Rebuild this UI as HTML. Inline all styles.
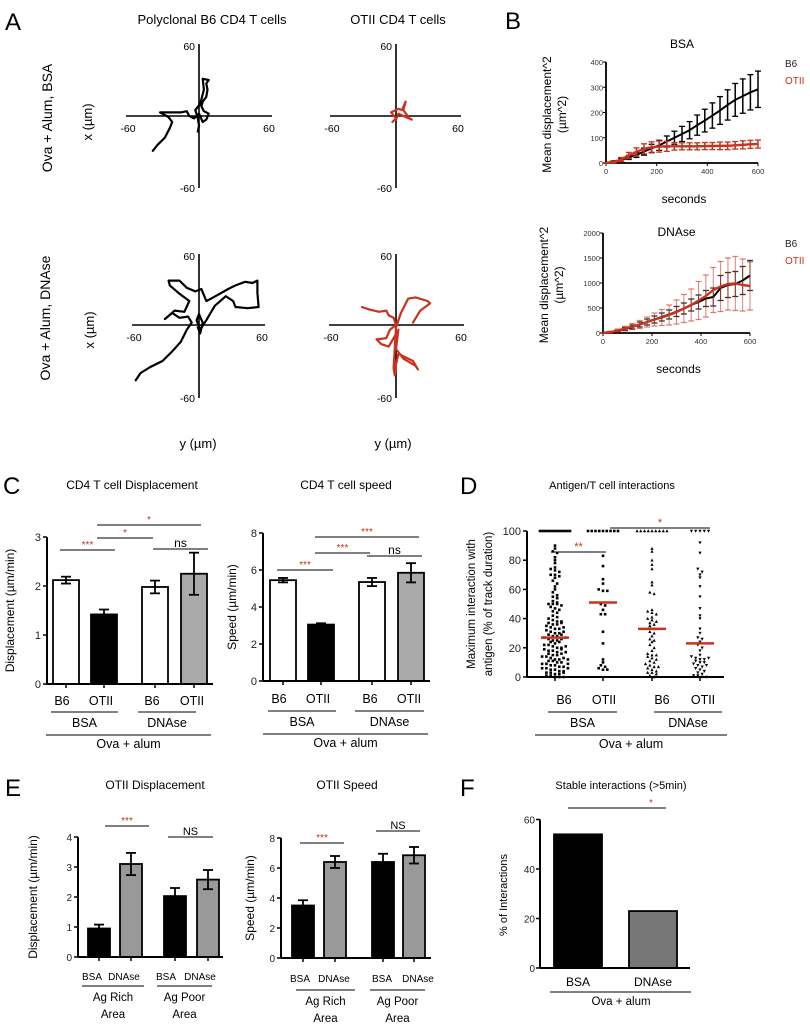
<!DOCTYPE html>
<html><head><meta charset="utf-8"><style>
html,body{margin:0;padding:0;background:#fff;}
svg{display:block;font-family:"Liberation Sans",sans-serif;}
</style></head><body>
<svg id="fig" width="810" height="1030" viewBox="0 0 810 1030" xmlns="http://www.w3.org/2000/svg">
<g font-size="24" fill="#000">
<text x="5" y="30">A</text>
<text x="505" y="29">B</text>
<text x="3" y="494">C</text>
<text x="460" y="494">D</text>
<text x="5" y="796">E</text>
<text x="460" y="796">F</text>
</g>
<g id="root"></g>
</svg>
<script>
// ===== Panel A track data (µm) =====
const trackB6BSA = [[-38,-29],[-34,-24],[-28,-18],[-24,-10],[-22,-5],[-25,-1],[-32,3],[-22,3],[-15,3],[-10,4],[-8,0],[-4,-2],[0,2],[3,-5],[6,-3],[8,2],[4,4],[2,8],[3,12],[6,16],[7,22],[6,27],[8,30],[3,31],[4,22],[1,10],[-3,5],[-1,-2],[0,-8],[-1,-13]];
const trackOTIIBSA = [[-3,-5],[0,-2],[-4,3],[2,6],[5,5],[7,10],[8,12],[6,5],[11,-2],[13,-3],[6,0],[2,2],[0,-3]];
const trackB6DN = [[-52,-46],[-48,-40],[-40,-35],[-30,-30],[-22,-22],[-15,-14],[-10,-4],[-6,2],[-9,7],[-16,6],[-22,10],[-28,5],[-20,12],[-12,11],[-8,20],[-16,26],[-24,33],[-25,37],[-16,37],[-10,31],[-3,28],[2,30],[6,20],[10,22],[17,26],[24,30],[30,33],[38,36],[44,35],[48,37],[48,27],[49,15],[40,14],[30,15],[28,20],[22,24],[13,16],[6,4],[1,-4],[-2,4],[0,9],[3,2],[1,-7],[-1,-2]];
const trackOTIIDN = [[-28,15],[-22,13],[-14,11],[-8,12],[-6,8],[-2,6],[0,0],[-5,-4],[-8,-11],[-16,-12],[-12,-16],[-6,-18],[-2,-11],[2,-4],[0,-20],[6,-28],[16,-34],[18,-37],[14,-30],[2,-24],[0,-33],[-1,-42],[-2,-36],[0,-2],[4,10],[10,22],[16,23],[26,20],[28,18],[20,12],[14,2]];

// ===== Panel B data =====
const bTimes = [0,30,60,90,120,150,180,210,240,270,300,330,360,390,420,450,480,510,540,570,600];
const bsaB6 = [0,6,12,22,32,45,58,70,85,100,115,130,150,168,188,208,230,250,265,280,292];
const bsaB6Err = [0,3,6,8,10,14,16,20,22,26,30,34,40,45,50,55,60,65,68,70,72];
const bsaOTII = [0,4,14,30,44,56,62,65,66,66,66,66,66,67,67,68,68,70,72,74,75];
const bsaOTIIErr = [0,4,8,12,16,20,22,22,20,15,14,14,14,14,14,15,15,15,16,16,16];
const dnB6 = [0,15,40,80,120,170,220,270,320,370,430,490,560,620,690,720,900,960,980,1050,1150];
const dnB6Err = [0,10,20,30,40,50,60,70,80,90,100,110,120,140,160,180,250,250,250,280,300];
const dnOTII = [0,20,50,90,130,170,220,270,310,360,420,490,560,650,740,860,930,980,990,960,940];
const dnOTIIErr = [0,15,30,45,60,80,100,130,160,200,240,280,320,380,420,450,500,520,540,520,480];
const bYTicksBSA = [0,100,200,300,400];
const bYTicksDN = [0,500,1000,1500,2000];
const bXTicks = [0,200,400,600];

// ===== Panel C data =====
const cCats = ["B6","OTII","B6","OTII"];
const cDisp = [2.12,1.42,1.98,2.25];
const cDispErr = [0.07,0.1,0.13,0.43];
const cSpeed = [5.45,3.05,5.35,5.85];
const cSpeedErr = [0.12,0.07,0.22,0.52];
const cDispTicks = [0,1,2,3];
const cSpeedTicks = [0,2,4,6,8];

// ===== Panel D data =====
const dB6BSA = [100,100,100,100,100,100,100,100,100,100,100,100,100,90,88,86,85,82,80,78,75,74,73,72,70,70,69,68,66,64,62,60,58,56,55,54,52,51,50,50,50,49,48,47,46,45,44,42,41,40,39,38,38,37,36,35,34,33,33,32,31,30,30,29,28,28,27,26,25,25,24,23,22,22,21,20,20,19,18,18,17,16,15,15,14,14,13,12,12,11,11,10,10,9,9,8,8,7,7,6,6,5,5,4,4,3,3,2,2,1,1,0,0,0,13,16,19,24,26,29,34,36,12,9,6,3,17,21,27,31,37];
const dOTIIBSA = [100,100,100,100,100,100,100,100,100,83,76,67,64,60,59,59,50,49,46,43,43,31,23,12,10,8,7,6,5,5];
const dB6DN = [100,100,100,100,100,100,100,100,100,88,86,80,77,74,65,63,58,57,46,45,44,43,41,40,39,38,37,36,35,33,31,30,28,26,24,22,20,18,16,15,14,13,12,11,10,9,8,7,6,5,4,3,3,2,1,0,7,15,25];
const dOTIIDN = [100,100,100,100,100,92,85,74,72,70,68,62,55,47,42,40,33,30,27,26,24,22,20,18,15,14,13,12,12,11,10,10,9,8,7,6,5,4,3,2,1,1,0,0,13,8];
const dMedians = [27,51,33,23];
const dTicks = [0,20,40,60,80,100];

// ===== Panel E data =====
const eDisp = [0.95,3.1,2.03,2.58];
const eDispErr = [0.13,0.37,0.27,0.32];
const eSpeed = [3.5,6.4,6.4,6.85];
const eSpeedErr = [0.35,0.4,0.55,0.55];
const eDispTicks = [0,1,2,3,4];
const eSpeedTicks = [0,2,4,6,8];

// ===== Panel F data =====
const fCats = ["BSA","DNAse"];
const fVals = [54,23];
const fTicks = [0,20,40,60];

const NS="http://www.w3.org/2000/svg";
const root=document.getElementById('root');
const RED="#c8321e";
function el(tag,attrs,parent,text){const e=document.createElementNS(NS,tag);for(const k in attrs)e.setAttribute(k,attrs[k]);if(text!==undefined)e.textContent=text;(parent||root).appendChild(e);return e;}
function grp(name){const g=el('g',{});


return g;}
function txt(g,x,y,s,size,opts){opts=opts||{};const t=el('text',{x:x,y:y,'font-size':size,'text-anchor':opts.anchor||'middle',fill:opts.fill||'#000'},g,s);if(opts.rot)t.setAttribute('transform','rotate(-90 '+x+' '+y+')');return t;}
function line(g,x1,y1,x2,y2,w,c){return el('line',{x1:x1,y1:y1,x2:x2,y2:y2,stroke:c||'#000','stroke-width':w||1},g);}

// ===== Panel A =====
const gA=grp('panel-a-tracks');
txt(gA,212,24,'Polyclonal B6 CD4 T cells',13);
txt(gA,398,24,'OTII CD4 T cells',13);
txt(gA,52,118,'Ova + Alum, BSA',14,{rot:true});
txt(gA,92,122,'x (µm)',13,{rot:true});
txt(gA,50,318,'Ova + Alum, DNAse',14,{rot:true});
txt(gA,94,330,'x (µm)',13,{rot:true});
txt(gA,198,448,'y (µm)',13);
txt(gA,393,448,'y (µm)',13);
function trackPlot(name,cx,cy,hx0,hx1,vy0,vy1,data,color){
  const g=grp(name);
  const sx=73/60, sy=72/60;
  line(g,hx0,cy,hx1,cy,1.6);line(g,cx,vy0,cx,vy1,1.6);
  txt(g,cx-4,vy0+6,'60',10.5,{anchor:'end'});
  txt(g,cx-4,vy1+4,'-60',10.5,{anchor:'end'});
  txt(g,hx0+2,cy+16,'-60',10.5);
  txt(g,hx1-3,cy+16,'60',10.5);
  const pts=data.map(p=>(cx+p[0]*sx).toFixed(1)+','+(cy-p[1]*sy).toFixed(1)).join(' ');
  const pl=el('polyline',{points:pts,fill:'none',stroke:color,'stroke-width':2.2,'stroke-linejoin':'round','stroke-linecap':'round'},g);
  
  
}
trackPlot('track-b6-bsa',199,116,126,272,44,188,trackB6BSA,'#000');
trackPlot('track-otii-bsa',396,116,330,461,44,188,trackOTIIBSA,RED);
trackPlot('track-b6-dnase',199,325,132,265,254,398,trackB6DN,'#000');
trackPlot('track-otii-dnase',396,325,329,464,254,398,trackOTIIDN,RED);

// ===== Panel B =====
function msdPlot(name,title,x0,x1,y0,ytop,ymax,yticks,s1,e1,s2,e2,titleY,legY,errStyle){
  const g=grp(name);
  const X=t=>x0+(t/600)*(x1-x0), Y=v=>y0-(v/ymax)*(y0-ytop);
  txt(g,(x0+x1)/2,titleY,title,12);
  txt(g,x0-55,(y0+ytop)/2+2,'Mean displacement^2',12,{rot:true});
  txt(g,x0-40,(y0+ytop)/2+2,'(µm^2)',12,{rot:true});
  txt(g,(x0+x1)/2+2,y0+40,'seconds',12);
  txt(g,785,legY,'B6',10,{anchor:'start',fill:'#222'});
  txt(g,785,legY+17,'OTII',10,{anchor:'start',fill:RED});
  line(g,x0,ytop,x0,y0,1.8);line(g,x0,y0,x1,y0,1.8);
  yticks.forEach(v=>{line(g,x0-3,Y(v),x0,Y(v),1);txt(g,x0-3,Y(v)+3,String(v),7.5,{anchor:'end',fill:'#333'});});
  bXTicks.forEach(v=>{line(g,X(v),y0,X(v),y0+3,1);txt(g,X(v),y0+11,String(v),7.5,{fill:'#333'});});
  function series(vals,errs,color,w,eop,sname){
    const sg=grp(sname);g.appendChild(sg);
    bTimes.forEach((t,i)=>{const x=X(t);line(sg,x,Y(vals[i]-errs[i]),x,Y(vals[i]+errs[i]),errStyle?1:1.5,color).setAttribute('opacity',eop);
      line(sg,x-3,Y(vals[i]+errs[i]),x+3,Y(vals[i]+errs[i]),1.3,color).setAttribute('opacity',eop);
      line(sg,x-3,Y(vals[i]-errs[i]),x+3,Y(vals[i]-errs[i]),1.3,color).setAttribute('opacity',eop);});
    el('polyline',{points:bTimes.map((t,i)=>X(t)+','+Y(vals[i])).join(' '),fill:'none',stroke:color,'stroke-width':w,'stroke-linejoin':'round'},sg);
  }
  series(s1,e1,'#000',2,errStyle?0.8:1,'series-b6');
  series(s2,e2,RED,2.4,errStyle?0.6:1,'series-otii');
}
msdPlot('msd-bsa-chart','BSA',606,758,163,62,400,bYTicksBSA,bsaB6,bsaB6Err,bsaOTII,bsaOTIIErr,48,67,false);
msdPlot('msd-dnase-chart','DNAse',603,750,333,233,2000,bYTicksDN,dnB6,dnB6Err,dnOTII,dnOTIIErr,236,247,true);

// ===== generic bar chart =====
function barChart(name,x0,x1,y0,pxu,ticks,vals,errs,centers,bw,fills,ylabel,ylx,tickSize){
  const g=grp(name);
  const Y=v=>y0-v*pxu;
  vals.forEach((v,i)=>{
    const r=el('rect',{x:centers[i]-bw/2,y:Y(v),width:bw,height:v*pxu,fill:fills[i],stroke:'#000','stroke-width':1.8},g);
    
    
    if(errs){const x=centers[i];const both=fills[i]!=='#000';
      line(g,x,Y(v+errs[i]),x,both?Y(v-errs[i]):Y(v),1.8);
      line(g,x-5,Y(v+errs[i]),x+5,Y(v+errs[i]),1.8);
      if(both)line(g,x-5,Y(v-errs[i]),x+5,Y(v-errs[i]),1.8);}
    line(g,centers[i],y0,centers[i],y0+4,1.5);
  });
  line(g,x0,Y(ticks[ticks.length-1]),x0,y0,2);line(g,x0,y0,x1,y0,2);
  ticks.forEach(v=>{line(g,x0-4,Y(v),x0,Y(v),1.5);txt(g,x0-6,Y(v)+4,String(v),tickSize||11,{anchor:'end',fill:'#222'});});
  txt(g,ylx,y0-(ticks[ticks.length-1]*pxu)/2,ylabel,12,{rot:true});
  return g;
}
function sig(g,x1,x2,y,label,color,size){line(g,x1,y,x2,y,1);txt(g,(x1+x2)/2,y-2,label,size||10,{fill:color});}

// ===== Panel C =====
const gC=grp('panel-c-titles');
txt(gC,132,489,'CD4 T cell Displacement',12);
txt(gC,346,489,'CD4 T cell speed',12);
const cF=['#fff','#000','#fff','#aaa'];
const gC1=barChart('displacement-bar-chart',47,213,684,49,cDispTicks,cDisp,cDispErr,[66,104,155,194],26,cF,'Displacement (µm/min)',14);
const gC2=barChart('speed-bar-chart',263,430,681,37/2,cSpeedTicks,cSpeed,cSpeedErr,[283,321,372,411],26,cF,'Speed (µm/min)',236);
function groupLabels(g,centers,cats,ly,gl,g1,g2,glbl,big){
  cats.forEach((c,i)=>txt(g,centers[i],ly,c,12.5));
  line(g,g1[0],gl,g1[1],gl,1);line(g,g2[0],gl,g2[1],gl,1);
  txt(g,(g1[0]+g1[1])/2,gl+15,glbl[0],12.5);txt(g,(g2[0]+g2[1])/2,gl+15,glbl[1],12.5);
  line(g,big[0],gl+23,big[1],gl+23,1);txt(g,(big[0]+big[1])/2,gl+36,'Ova + alum',12.5);
}
groupLabels(gC1,[62,101,152,192],cCats,705,712,[51,118],[138,196],['BSA','DNAse'],[46,211]);
groupLabels(gC2,[279,318,370,409],cCats,703,711,[268,336],[355,424],['BSA','DNAse'],[263,428]);
sig(gC1,97,201,525,'*',RED);sig(gC1,97,153,538,'*',RED);sig(gC1,60,115,550,'***',RED);sig(gC1,153,208,549,'ns','#000',12);
sig(gC2,315,419,537,'***',RED);sig(gC2,315,370,553,'***',RED);sig(gC2,367,422,556,'ns','#000',12);sig(gC2,277,333,570,'***',RED);

// ===== Panel D =====
const gD=grp('antigen-interaction-scatter');
txt(gD,612,489,'Antigen/T cell interactions',11);
const dX0=527,dX1=724,dY0=677,dYT=531;
const DY=v=>dY0-(v/100)*(dY0-dYT);
line(gD,dX0,dYT,dX0,dY0,2);line(gD,dX0,dY0,dX1,dY0,2);
dTicks.forEach(v=>{line(gD,dX0-4,DY(v),dX0,DY(v),1.5);txt(gD,dX0-6,DY(v)+4,String(v),11,{anchor:'end',fill:'#222'});});
txt(gD,475,604,'Maximum interaction with',11.5,{rot:true});
txt(gD,492,604,'antigen (% of track duration)',11.5,{rot:true});
const dCols=[dB6BSA,dOTIIBSA,dB6DN,dOTIIDN];
const dCenters=[555,603,652,700];
const dShapes=['sq','sq','tri','itri'];
dCols.forEach((col,ci)=>{
  const cg=grp('scatter-column-'+ci);gD.appendChild(cg);
  const bins={};
  col.forEach(v=>{const b=Math.round(v/2.6);(bins[b]=bins[b]||[]).push(v);});
  Object.keys(bins).forEach(b=>{const arr=bins[b];const n=arr.length;const sp=n>1?Math.min(4.3,30/(n-1)):0;arr.forEach((v,k)=>{
    const x=dCenters[ci]+(k-(n-1)/2)*sp, y=DY(v);
    if(dShapes[ci]==='sq')el('rect',{x:x-1.3,y:y-1.3,width:2.6,height:2.6,fill:'#000'},cg);
    else if(dShapes[ci]==='tri')el('polygon',{points:`${x},${y-1.7} ${x-1.6},${y+1.3} ${x+1.6},${y+1.3}`,fill:'#000'},cg);
    else el('polygon',{points:`${x},${y+1.7} ${x-1.6},${y-1.3} ${x+1.6},${y-1.3}`,fill:'#000'},cg);
  });});
  line(cg,dCenters[ci]-14,DY(dMedians[ci]),dCenters[ci]+14,DY(dMedians[ci]),2.5,RED);
  line(cg,dCenters[ci],dY0,dCenters[ci],dY0+4,1.5);
});
groupLabels(gD,[564,604,662,703],cCats,704,712,[548,617],[654,722],['BSA','DNAse'],[535,727]);
sig(gD,551,606,552,'**',RED,11);sig(gD,610,710,528,'*',RED,11);

// ===== Panel E =====
const gE=grp('panel-e-titles');
txt(gE,155,789,'OTII Displacement',12);
txt(gE,347,789,'OTII Speed',12);
const eF=['#000','#999','#000','#999'];
const gE1=barChart('otii-displacement-bar-chart',78,223,957,30,eDispTicks,eDisp,eDispErr,[99,131,175,208],22,eF,'Displacement (µm/min)',37,10);
const gE2=barChart('otii-speed-bar-chart',281,431,958,15,eSpeedTicks,eSpeed,eSpeedErr,[303,335,383,414],22,eF,'Speed (µm/min)',254,10);
function eLabels(g,c,ly,gl,g1,g2){
  txt(g,c[0],ly,'BSA',10);txt(g,c[1],ly,'DNAse',10);txt(g,c[2],ly,'BSA',10);txt(g,c[3],ly,'DNAse',10);
  line(g,g1[0],gl,g1[1],gl,1);line(g,g2[0],gl,g2[1],gl,1);
  txt(g,(g1[0]+g1[1])/2,gl+15,'Ag Rich',11.5);txt(g,(g1[0]+g1[1])/2,gl+32,'Area',11.5);
  txt(g,(g2[0]+g2[1])/2,gl+15,'Ag Poor',11.5);txt(g,(g2[0]+g2[1])/2,gl+32,'Area',11.5);
}
eLabels(gE1,[92,124,166,200],980,986,[82,144],[157,212]);
eLabels(gE2,[300,334,382,418],982,990,[296,355],[370,425]);
sig(gE1,105,149,826,'***',RED);sig(gE1,168,213,837,'NS','#000',11);
sig(gE2,300,344,843,'***',RED);sig(gE2,376,420,831,'NS','#000',11);

// ===== Panel F =====
const gF=grp('stable-interactions-bar-chart');
txt(gF,621,789,'Stable interactions (>5min)',11);
const fY0=968,fPx=49.5/20,fX0=540,fX1=690;
const fCenters=[578,653],fFill=['#000','#777'];
fVals.forEach((v,i)=>{const r=el('rect',{x:fCenters[i]-24,y:fY0-v*fPx,width:48,height:v*fPx,fill:fFill[i],stroke:'#000','stroke-width':1.8},gF);
  
  
  txt(gF,fCenters[i],986,fCats[i],12);});
line(gF,fX0,fY0-60*fPx,fX0,fY0,2);line(gF,fX0,fY0,fX1,fY0,2);
fTicks.forEach(v=>{line(gF,fX0-4,fY0-v*fPx,fX0,fY0-v*fPx,1.5);txt(gF,fX0-5,fY0-v*fPx+4,String(v),10,{anchor:'end',fill:'#222'});});
txt(gF,507,895,'% of Interactions',11,{rot:true});
line(gF,550,992,691,992,1);txt(gF,621,1005,'Ova + alum',11.5);
line(gF,568,808,666,808,1);txt(gF,651,806,'*',10,{fill:RED});
</script>
</body></html>
